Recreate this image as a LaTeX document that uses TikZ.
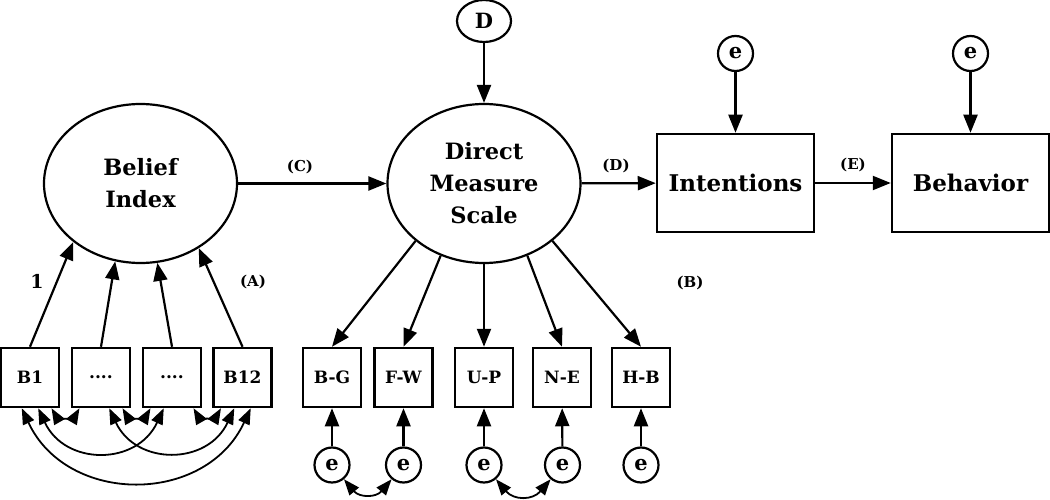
\documentclass[tikz,border=0pt]{standalone}
\usepackage{fontspec}
\setmainfont{DejaVu Serif}
\usetikzlibrary{arrows.meta,shapes.geometric}

\begin{document}
\begin{tikzpicture}[x=1pt,y=1pt,
		latent/.style={draw,ellipse,line width=2.2pt,minimum width=193pt,minimum height=159pt,inner sep=0pt,align=center,font=\fontsize{22.5}{32}\selectfont\bfseries},
		item/.style={draw,rectangle,line width=2.5pt,minimum width=58pt,minimum height=59pt,inner sep=0pt,font=\fontsize{17}{17}\selectfont\bfseries},
		outcome/.style={draw,rectangle,line width=2.5pt,minimum width=157pt,minimum height=98pt,inner sep=0pt,font=\fontsize{23}{23}\selectfont\bfseries},
		resid/.style={draw,circle,line width=2.2pt,minimum size=35pt,inner sep=0pt,font=\fontsize{21}{21}\selectfont\bfseries},
		tag/.style={font=\fontsize{15}{15}\selectfont\bfseries},
		arr/.style={-{Triangle[length=18pt,width=14pt]},line width=2.2pt},
		cov/.style={{Triangle[length=16pt,width=12pt]}-{Triangle[length=16pt,width=12pt]},line width=1.8pt}]
			\useasboundingbox (0,0) rectangle (1050,-500);
			
			% latent variables
			\node[latent] (BI) at (140.5,-183.5) {Belief\\Index};
			\node[latent] (DM) at (484,-183.5) {Direct\\Measure\\Scale};
			\node[draw,ellipse,line width=2.2pt,minimum width=54pt,minimum height=42pt,inner sep=0pt,font=\fontsize{21}{21}\selectfont\bfseries] (Dist) at (484,-21) {D};
			
			% outcomes
			\node[outcome] (Int) at (735.5,-183) {Intentions};
			\node[outcome] (Beh) at (970.5,-183) {Behavior};
			\node[resid] (eInt) at (735.5,-53.5) {e};
			\node[resid] (eBeh) at (970.5,-53.5) {e};
			
			% belief items
			\node[item] (B1) at (30,-377.5) {B1};
			\node[item] (Bb) at (101,-377.5) {....};
			\node[item] (Bc) at (172,-377.5) {....};
			\node[item] (B12) at (242.5,-377.5) {B12};
			
			% direct measure items
			\node[item] (BG) at (332,-377.5) {B-G};
			\node[item] (FW) at (403.5,-377.5) {F-W};
			\node[item] (UP) at (484,-377.5) {U-P};
			\node[item] (NE) at (562,-377.5) {N-E};
			\node[item] (HB) at (641,-377.5) {H-B};
			\node[resid] (eBG) at (332,-465) {e};
			\node[resid] (eFW) at (403.5,-465) {e};
			\node[resid] (eUP) at (484,-465) {e};
			\node[resid] (eNE) at (562.5,-465) {e};
			\node[resid] (eHB) at (641,-465) {e};
			
			% labels
			\node[tag] (lC) at (300,-167) {(C)};
			\node[tag] (lD) at (616,-166) {(D)};
			\node[tag] (lE) at (853,-165) {(E)};
			\node[tag] (lA) at (253,-282) {(A)};
			\node[tag] (lB) at (690,-283) {(B)};
			\node[font=\fontsize{19}{19}\selectfont\bfseries] (lOne) at (37,-281) {1};
			
			% paths
			\draw[arr] (BI) -- (DM);
			\draw[arr] (DM) -- (Int);
			\draw[arr] (Int) -- (Beh);
			\draw[arr] (Dist) -- (DM);
			\draw[arr] (eInt) -- (Int);
			\draw[arr] (eBeh) -- (Beh);
			
			\draw[arr] (B1.north) -- (BI.-139);
			\draw[arr] (Bb.north) -- (BI.-108);
			\draw[arr] (Bc.north) -- (BI.-78);
			\draw[arr] (B12.north) -- (BI.-48);
			
			\draw[arr] (DM.-140) -- (BG.north);
			\draw[arr] (DM.-121) -- (FW.north);
			\draw[arr] (DM.south) -- (UP.north);
			\draw[arr] (DM.-59) -- (NE.north);
			\draw[arr] (DM.-40) -- (HB.north);
			
			\draw[arr] (eBG) -- (BG);
			\draw[arr] (eFW) -- (FW);
			\draw[arr] (eUP) -- (UP);
			\draw[arr] (eNE) -- (NE);
			\draw[arr] (eHB) -- (HB);
			
			% covariances
			\draw[cov] (B1.-55) to[out=-60,in=-120] (Bb.-125);
			\draw[cov] (Bb.-55) to[out=-60,in=-120] (Bc.-125);
			\draw[cov] (Bc.-55) to[out=-60,in=-120] (B12.-125);
			\draw[cov] (B1.-75) to[out=-65,in=-115,looseness=1.3] (Bc.-105);
			\draw[cov] (Bb.-75) to[out=-65,in=-115,looseness=1.3] (B12.-105);
			\draw[cov] (B1.-105) to[out=-65,in=-115,looseness=1.2] (B12.-75);
			
			\draw[cov] (eBG.-50) to[out=-50,in=-130,looseness=1.3] (eFW.-130);
			\draw[cov] (eUP.-50) to[out=-50,in=-130,looseness=1.3] (eNE.-130);
		\end{tikzpicture}
\end{document}
